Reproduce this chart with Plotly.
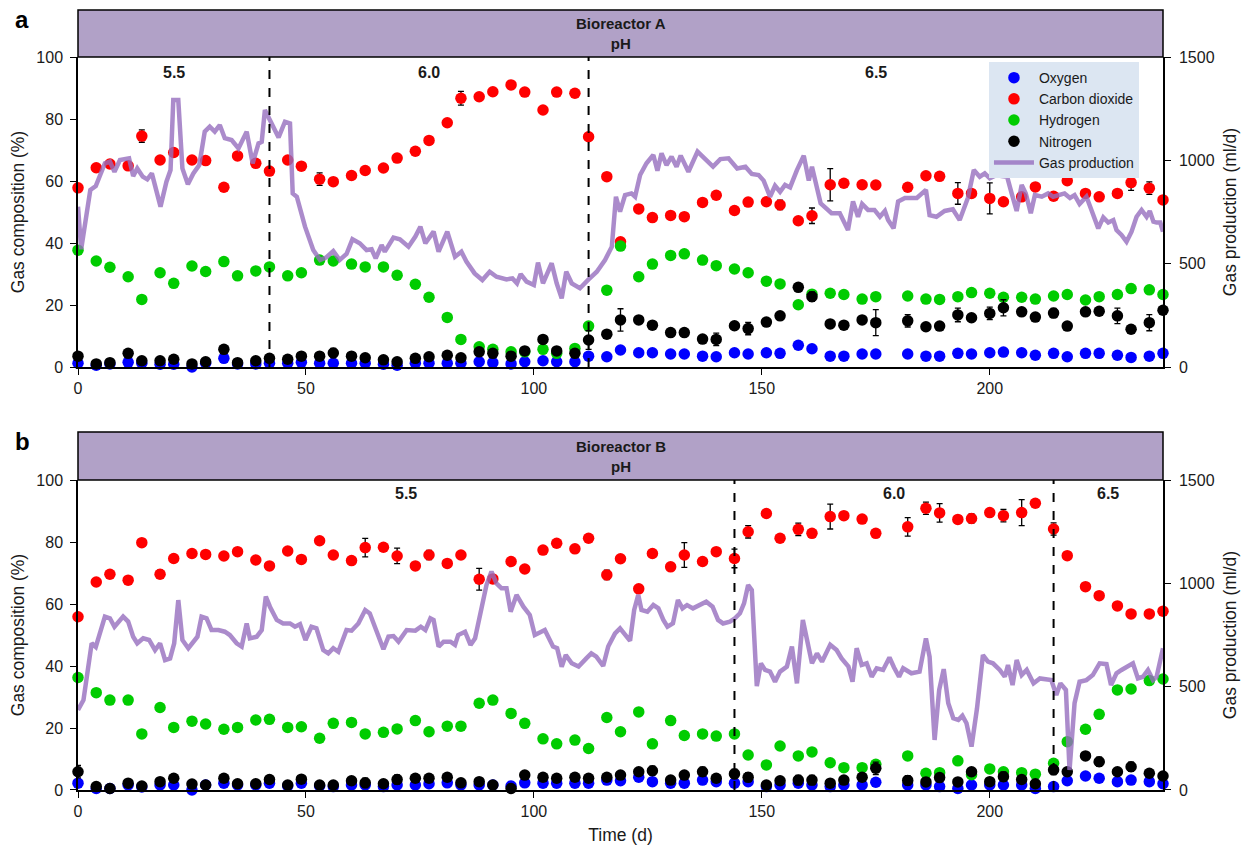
import plotly.graph_objects as go

# ---------------- sampling days (gas composition) ----------------
DAYS = [0, 4, 7, 11, 14, 18, 21, 25, 28, 32, 35, 39, 42, 46, 49, 53, 56, 60, 63, 67,
        70, 74, 77, 81, 84, 88, 91, 95, 98, 102, 105, 109, 112, 116, 119, 123, 126, 130, 133, 137,
        140, 144, 147, 151, 154, 158, 161, 165, 168, 172, 175, 182, 186, 189, 193, 196, 200, 203, 207, 210,
        214, 217, 221, 224, 228, 231, 235, 238]

# ---------------- Bioreactor A ----------------
O2_A = [1.2, 0.6, 1.0, 1.5, 1.2, 0.9, 0.9, 0.0, 1.2, 2.8, 1.0, 1.0, 1.2, 1.2, 1.5, 1.2, 1.2, 1.2, 1.2, 0.9,
        0.6, 1.2, 1.2, 1.2, 1.2, 1.7, 1.4, 1.0, 1.7, 2.0, 1.7, 1.7, 3.5, 3.3, 5.5, 4.6, 4.6, 4.2, 4.2, 3.5,
        3.3, 4.6, 4.2, 4.6, 4.4, 7.0, 5.9, 3.5, 3.5, 4.2, 4.2, 4.2, 3.5, 3.5, 4.4, 4.2, 4.6, 4.8, 4.6, 3.8,
        4.4, 3.3, 4.4, 4.4, 3.8, 3.1, 3.5, 4.4]
CO2_A = [57.8, 64.3, 65.5, 64.9, 74.5, 66.8, 69.2, 66.8, 66.6, 58.0, 68.1, 65.7, 63.2, 66.8, 64.8, 60.6, 59.8, 61.8, 63.4, 64.2,
         67.4, 69.6, 73.1, 78.8, 86.7, 87.2, 88.8, 91.0, 88.7, 82.9, 88.7, 88.3, 74.3, 61.4, 40.4, 51.0, 48.2, 48.9, 48.5, 53.1,
         55.4, 50.5, 53.2, 53.3, 52.3, 47.2, 48.8, 58.8, 59.3, 58.8, 58.7, 58.0, 61.7, 61.5, 56.0, 56.0, 54.4, 53.3, 54.9, 58.1,
         55.1, 60.1, 56.0, 54.9, 56.0, 59.5, 57.7, 53.9]
H2_A = [37.7, 34.2, 32.2, 29.1, 21.8, 30.4, 27.0, 32.6, 30.8, 34.0, 29.4, 31.0, 32.3, 29.4, 30.4, 34.5, 34.2, 33.2, 32.3, 32.3,
        29.6, 26.7, 22.5, 16.0, 8.9, 6.5, 5.7, 4.9, 4.9, 5.7, 4.4, 6.0, 13.2, 24.8, 39.0, 29.1, 33.2, 36.0, 36.5, 34.5,
        32.7, 31.6, 30.4, 27.7, 26.8, 20.1, 23.5, 23.8, 23.4, 21.9, 22.7, 22.9, 21.9, 21.8, 22.7, 24.0, 23.8, 22.5, 22.5, 21.9,
        22.9, 23.4, 21.6, 22.7, 23.4, 25.3, 24.9, 23.4]
N2_A = [3.5, 1.0, 1.4, 4.4, 2.0, 2.0, 2.5, 1.0, 1.7, 5.7, 1.4, 2.0, 2.8, 2.5, 3.5, 3.5, 4.5, 3.5, 3.0, 2.3,
        1.7, 2.8, 3.3, 3.8, 3.0, 4.9, 4.4, 3.5, 5.2, 8.9, 5.2, 4.4, 8.7, 10.6, 15.2, 15.2, 13.5, 11.1, 11.1, 9.0,
        8.9, 13.3, 12.4, 14.5, 16.5, 25.7, 22.7, 13.9, 13.5, 15.2, 14.3, 14.9, 13.0, 13.2, 16.8, 15.9, 17.3, 19.1, 17.8, 16.1,
        17.4, 13.2, 17.8, 18.0, 16.5, 12.2, 14.3, 18.3]

# standard deviations (day -> value) where bars are drawn
CO2_A_ERR = {14: 2.0, 53: 2.0, 70: 1.2, 74: 1.0, 77: 1.0, 84: 2.2, 88: 1.2, 144: 1.0, 154: 1.5,
             161: 2.5, 165: 5.2, 193: 3.5, 200: 5.0, 231: 2.5, 235: 2.0}
N2_A_ERR = {56: 1.5, 84: 1.0, 88: 1.0, 98: 1.0, 112: 3.0, 119: 3.6, 140: 2.0, 147: 2.0, 161: 1.5,
            175: 4.2, 182: 2.0, 193: 2.2, 200: 2.0, 203: 2.6, 214: 1.5, 228: 2.5, 235: 2.6}

GAS_A_DAY = [0, 0.7, 2.7, 3.9, 5.9, 7, 8, 9.2, 11.2, 12.1, 13, 14.2, 15.2, 16.2, 18.1, 19.4, 20.3, 20.9, 22, 22.9,
             24.1, 25.3, 26.6, 27.8, 28.9, 30, 31.1, 32.2, 33.7, 35.2, 37, 38.3, 39.6, 40.3, 41, 42.1, 44, 45.4, 46.5, 47.1,
             48, 49.8, 51.6, 53.1, 54.5, 56, 57.4, 58.9, 60.2, 61.8, 63.3, 64.4, 65.3, 66.6, 67.3, 69.2, 70.6, 72.5, 74, 75.1,
             76.2, 78, 79.1, 81,
             82.7, 84.1, 85.2, 87, 88.7, 90.3, 91.8, 94, 95.3, 96.3, 97.1, 98.4, 100, 100.9, 102, 103.9, 105, 106.1, 107.1, 108.3,
             110.1, 112, 113.8, 115.6, 117.1, 118, 118.9, 120, 121.4, 122.2, 123.3, 124.7, 126.2, 127.1, 128, 129.1, 130.2, 131.3, 132.2, 133.9,
             135.9, 137.6, 139.3, 140.9, 142.7, 144.6, 146.4, 147.8, 149.3, 150.4, 151.8, 152.9, 154, 155.1, 156.2, 157.7, 159.2, 160.3, 161, 162.9,
             164.3,
             165.3, 167.1, 168.9, 170, 171.1, 172, 173.3, 174.7, 175.9, 177, 177.7, 178.9, 179.9, 181.4, 184, 186, 186.8, 188.3, 190.1, 191.9,
             193.4, 195.2, 196.5, 197.8, 198.9, 200, 201.5, 202.6, 203.8, 204.8, 205.9, 207, 207.9, 209, 209.9, 211.4, 212.8, 213.9, 215.4, 216.4,
             217.6, 218.6, 219.7, 221.2, 222.3, 223.8, 224.9, 226, 227.1, 227.8, 228.9, 230, 231.1, 232.2, 233.3, 234.4, 235.1, 235.9, 236.6, 237.4,
             238]
GAS_A_ML = [776, 570, 857, 876, 986, 994, 945, 1002, 1010, 924, 961, 921, 908, 937, 776, 897, 953, 1292, 1292, 961,
            884, 937, 977, 1139, 1163, 1139, 1171, 1107, 1098, 1058, 1139, 986, 1082, 1090, 1244, 1195, 1111, 1187, 1179, 840,
            824, 679, 566, 518, 531, 561, 518, 547, 618, 599, 566, 570, 526, 590, 558, 626, 618, 582, 631, 679,
            599, 655, 558, 655,
            534, 558, 510, 453, 421, 461, 437, 424, 429, 405, 450, 413, 397, 505, 405, 502, 405, 332, 461, 405,
            381, 424, 461, 518, 582, 824, 752, 832, 840, 824, 929, 986, 1026, 950, 1034, 977, 1018, 969, 1023, 945,
            1042, 1006, 970, 1006, 1010, 961, 969, 934, 929, 902, 824, 877, 848, 881, 869, 953, 1023, 902, 969, 792,
            768,
            744, 744, 663, 801, 727, 789, 760, 760, 727, 755, 711, 671, 801, 818, 818, 857, 735, 727, 755, 763,
            711, 818, 953, 921, 937, 913, 929, 924, 921, 840, 755, 881, 840, 744, 832, 824, 840, 824, 832, 840,
            818, 832, 789, 824, 760, 671, 724, 699, 711, 663, 639, 606, 655, 727, 760, 727, 755, 703, 699, 699,
            655]

# ---------------- Bioreactor B ----------------
O2_B = [2.2, 0.5, 0.5, 1.6, 1.0, 1.6, 1.6, 0.0, 1.6, 2.2, 1.6, 1.6, 2.2, 1.3, 2.2, 1.3, 1.1, 1.6, 1.6, 1.1,
        1.6, 1.6, 2.0, 2.3, 1.6, 1.6, 1.6, 1.3, 2.3, 2.2, 2.2, 2.2, 2.2, 3.2, 3.0, 4.1, 2.7, 2.2, 2.2, 3.2,
        2.7, 2.2, 2.7, 1.1, 1.6, 2.2, 1.6, 1.1, 1.6, 1.6, 2.5, 1.6, 1.6, 1.1, 0.5, 1.6, 1.6, 1.6, 1.6, 0.5,
        1.1, 3.0, 4.5, 3.8, 2.7, 3.2, 2.7, 2.0]
CO2_B = [55.9, 67.1, 69.6, 67.7, 79.8, 69.6, 74.7, 76.3, 76.0, 75.5, 76.9, 74.2, 72.3, 77.1, 74.4, 80.4, 75.8, 74.0, 78.2, 78.3,
         75.5, 72.3, 75.8, 73.1, 75.8, 68.0, 68.1, 73.7, 71.3, 77.4, 79.6, 77.8, 81.2, 69.4, 74.6, 64.9, 76.3, 72.0, 75.8, 73.7,
         76.9, 74.7, 83.3, 89.2, 81.2, 84.1, 82.8, 88.2, 88.5, 87.4, 82.8, 84.9, 90.9, 89.4, 87.3, 87.6, 89.5, 88.5, 89.5, 92.5,
         84.2, 75.6, 65.6, 62.7, 59.4, 56.8, 56.8, 57.7]
H2_B = [36.3, 31.4, 29.0, 29.0, 18.1, 26.6, 20.2, 22.2, 21.3, 19.6, 20.2, 22.6, 22.8, 20.2, 20.4, 16.7, 21.5, 21.8, 18.1, 18.6,
        19.7, 22.4, 18.8, 20.6, 20.6, 28.0, 29.0, 24.7, 21.5, 16.5, 14.9, 16.1, 13.4, 23.4, 18.8, 25.2, 14.9, 22.4, 17.6, 18.1,
        17.4, 18.1, 11.3, 8.1, 14.2, 11.0, 12.3, 8.8, 7.2, 7.2, 8.3, 11.0, 5.4, 5.6, 9.4, 4.9, 6.8, 5.9, 5.6, 5.1,
        8.6, 15.6, 19.6, 24.4, 32.3, 32.6, 35.3, 35.8]
N2_B = [5.9, 1.1, 0.5, 2.2, 1.3, 2.7, 3.8, 1.9, 1.6, 3.8, 2.0, 2.0, 3.4, 1.6, 3.5, 1.6, 1.6, 3.0, 2.3, 2.0,
        3.4, 3.8, 3.8, 4.1, 2.3, 2.7, 1.6, 0.5, 4.8, 4.1, 3.8, 4.1, 3.8, 4.1, 4.8, 5.9, 6.2, 3.2, 4.8, 5.9,
        3.8, 5.2, 4.1, 1.6, 3.0, 3.2, 3.2, 2.2, 3.2, 4.1, 7.0, 3.1, 2.6, 4.0, 2.6, 5.9, 2.7, 4.3, 3.4, 2.0,
        6.5, 5.9, 11.0, 9.1, 5.9, 7.5, 5.4, 4.5]

CO2_B_ERR = {18: 1.3, 60: 1.0, 63: 3.0, 70: 2.5, 77: 1.5, 88: 3.5, 95: 1.0, 116: 1.5, 133: 4.0,
             144: 3.0, 147: 2.0, 158: 2.0, 165: 4.0, 182: 3.0, 186: 2.0, 189: 3.0, 196: 1.5,
             203: 2.0, 207: 4.2, 214: 2.0}
N2_B_ERR = {0: 2.0, 63: 1.5, 70: 1.5, 126: 1.5, 137: 1.5, 144: 1.5, 147: 1.5, 158: 1.5, 161: 1.5,
            175: 2.0, 182: 1.5, 203: 1.5, 214: 1.5, 224: 1.5, 231: 1.5}

GAS_B_DAY = [0, 1.2, 3, 3.9, 5.9, 7, 8, 9.9, 11, 12.1, 13, 14.3, 15.6, 16.9, 18, 19.1, 20.2, 21.1, 22, 22.9,
             24.2, 25.3, 26.2, 27.1, 28.2, 29.3, 30.8, 32.2, 33.3, 34.8, 35.9, 37, 37.7, 39.2, 40.3, 41.2, 42.1, 43.6, 45, 46.5,
             47.6, 48.7, 49.9, 51.2, 52.3, 53.8, 54.9, 56, 57.1, 58.9, 60, 61.5, 63, 64, 65.5, 67, 68.1, 69.2, 70.3, 72.1,
             74, 75.2, 76.2, 77.3, 78, 79.1, 80.2, 81.7, 82.7,
             83.4, 84.9, 86.1, 87.1, 88.2, 89.6, 90.7, 91.8, 92.9, 94, 94.9, 96.2, 97.7, 99.1, 100.2, 102.4, 104.2, 105.1, 106.1, 107,
             108.3, 109.8, 111.5, 112.6, 113.7, 115.2, 116.3, 117.8, 118.9, 120, 121.1, 122, 122.9, 123.6, 124.9, 126.2, 127.3, 128.4, 129.3, 130.5,
             131.6, 132.6, 133.6, 134.9, 136.3, 137.8, 139.2, 140.4, 141.5, 143, 144.1, 145.2, 146.1, 147, 147.8, 148.9, 149.8, 150.7, 151.8, 152.9,
             154, 155.5, 156.6, 157.7, 159, 159.9, 161, 162.1, 163.2,
             165, 166.4, 167.5, 169, 169.9, 170.8, 171.9, 173, 174.1, 175.2, 176.6, 178, 179, 180.1, 181, 182.8, 184.6, 186, 186.8, 187.9,
             188.9, 189.9, 190.9, 192, 193.1, 194, 194.9, 196, 197.2, 198.5, 199.6, 200.7, 202.2, 203.3, 204, 205, 205.9, 207, 208.1, 209.6,
             211, 212.5, 213.5, 214.6, 215.5, 216.7, 217.5, 218.6, 219.7, 221.2, 222.6, 224.1, 225.6, 226.6, 227.8, 228.9, 230.1, 231.4, 232.5, 233.6,
             234.7, 235.8, 236.6, 237.4, 238]
GAS_B_ML = [387, 435, 710, 692, 839, 831, 790, 839, 815, 742, 710, 734, 726, 677, 710, 629, 637, 710, 919, 726,
            686, 718, 742, 839, 831, 774, 774, 766, 750, 710, 694, 806, 734, 742, 774, 936, 887, 823, 806, 806,
            790, 802, 726, 790, 782, 677, 661, 686, 669, 774, 771, 806, 871, 855, 766, 681, 742, 745, 718, 774,
            771, 790, 774, 831, 823, 694, 718, 718, 702,
            750, 766, 702, 734, 855, 992, 1057, 1000, 976, 976, 863, 944, 887, 847, 750, 774, 694, 686, 597, 653,
            613, 597, 637, 661, 645, 600, 694, 758, 782, 750, 722, 871, 944, 871, 863, 895, 879, 823, 790, 806,
            919, 879, 895, 879, 895, 911, 887, 823, 806, 815, 831, 855, 903, 992, 968, 503, 613, 581, 573, 524,
            573, 597, 694, 516, 823, 726, 613, 661, 621,
            703, 677, 637, 597, 524, 686, 605, 613, 548, 589, 581, 641, 593, 548, 589, 565, 573, 734, 645, 242,
            484, 585, 420, 347, 339, 359, 323, 210, 395, 653, 621, 613, 581, 548, 605, 508, 629, 556, 581, 516,
            540, 532, 532, 460, 516, 484, 97, 420, 524, 532, 556, 613, 609, 508, 565, 581, 597, 613, 540, 548,
            581, 532, 548, 621, 686]

# pH set-point changes (days) and the pH of each phase
PH_A_SWITCH = [42, 112]
PH_A_LABELS = ["5.5", "6.0", "6.5"]
PH_B_SWITCH = [144, 214]
PH_B_LABELS = ["5.5", "6.0", "6.5"]

X_MAX = 238
SERIES_NAMES = ["Oxygen", "Carbon dioxide", "Hydrogen", "Nitrogen"]
SERIES_COLORS = ["#0000ff", "#ff0000", "#00cc00", "#000000"]
LINE_COLOR = "rgba(150,110,190,0.8)"
HEADER_FILL = "#b1a1c7"
FONT = "Liberation Sans, Arial, sans-serif"
TEXT_COLOR = "#1a1a1a"


def err_array(err_map):
    return [err_map.get(d, 0) for d in DAYS]


fig = go.Figure()


def add_panel(xa, ya, ya2, series, errors, gas_day, gas_ml, show_legend):
    for name, color, values, err in zip(SERIES_NAMES, SERIES_COLORS, series, errors):
        trace = dict(
            x=DAYS, y=values, mode="markers", name=name,
            marker=dict(color=color, size=11.5, line=dict(width=0)),
            xaxis=xa, yaxis=ya, showlegend=show_legend, cliponaxis=False,
        )
        if err:
            trace["error_y"] = dict(type="data", array=err_array(err), visible=True,
                                    color="black", thickness=1.3, width=3)
        fig.add_trace(go.Scatter(**trace))
    fig.add_trace(go.Scatter(
        x=gas_day, y=gas_ml, mode="lines", name="Gas production",
        line=dict(color=LINE_COLOR, width=4.5),
        xaxis=xa, yaxis=ya2, showlegend=show_legend,
    ))


add_panel("x", "y", "y2", [O2_A, CO2_A, H2_A, N2_A], [None, CO2_A_ERR, None, N2_A_ERR],
          GAS_A_DAY, GAS_A_ML, True)
add_panel("x2", "y3", "y4", [O2_B, CO2_B, H2_B, N2_B], [None, CO2_B_ERR, None, N2_B_ERR],
          GAS_B_DAY, GAS_B_ML, False)

# panel geometry in paper coordinates
TOP_DOM = [0.5423, 0.9397]
BOT_DOM = [0.0, 0.3974]
TOP_HEAD = [0.9397, 1.0]
BOT_HEAD = [0.3974, 0.459]

tick_font = dict(family=FONT, size=16, color=TEXT_COLOR)
title_font = dict(family=FONT, size=17.5, color=TEXT_COLOR)

axis_common = dict(showline=True, linecolor="black", linewidth=1.5, ticks="outside",
                   ticklen=6, tickwidth=1.3, tickcolor="black", showgrid=False,
                   zeroline=False, tickfont=tick_font, automargin=False)

x_common = dict(axis_common, range=[0, X_MAX], tickvals=[0, 50, 100, 150, 200])
y_left = dict(axis_common, range=[0, 100], dtick=20, ticklabelstandoff=4,
              title=dict(text="Gas composition (%)", font=title_font, standoff=7))
y_right = dict(axis_common, range=[0, 1500], dtick=500, side="right", ticklabelstandoff=5,
               title=dict(text="Gas production (ml/d)", font=title_font, standoff=10))

shapes = []
annotations = []


def panel_decor(xref, yref, head, switches, labels, title, letter, label_y):
    # header band
    shapes.append(dict(type="rect", xref="paper", yref="paper", x0=0, x1=1,
                       y0=head[0], y1=head[1], fillcolor=HEADER_FILL,
                       line=dict(color="black", width=1.5), layer="above"))
    annotations.append(dict(xref="paper", yref="paper", x=0.5, y=(head[0] + head[1]) / 2,
                            text="<b>" + title + "</b><br><b>pH</b>", showarrow=False,
                            font=dict(family=FONT, size=15, color=TEXT_COLOR),
                            xanchor="center", yanchor="middle"))
    annotations.append(dict(xref="paper", yref="paper", x=-0.0516, y=head[1] - 0.0128,
                            text="<b>" + letter + "</b>", showarrow=False,
                            font=dict(family=FONT, size=24, color="black"),
                            xanchor="center", yanchor="middle"))
    # pH change markers
    for d in switches:
        shapes.append(dict(type="line", xref=xref, yref=yref + " domain", x0=d, x1=d,
                           y0=0, y1=1, line=dict(color="black", width=2, dash="dash")))
    bounds = [0] + switches + [X_MAX]
    for i, lab in enumerate(labels):
        annotations.append(dict(xref=xref, yref="paper", x=(bounds[i] + bounds[i + 1]) / 2,
                                y=label_y, text="<b>" + lab + "</b>", showarrow=False,
                                font=dict(family=FONT, size=16, color=TEXT_COLOR),
                                xanchor="center", yanchor="middle"))


panel_decor("x", "y", TOP_HEAD, PH_A_SWITCH, PH_A_LABELS, "Bioreactor A", "a", 0.9205)
panel_decor("x2", "y3", BOT_HEAD, PH_B_SWITCH, PH_B_LABELS, "Bioreactor B", "b", 0.3795)

fig.update_layout(
    width=1245, height=847,
    margin=dict(l=78, r=82, t=10, b=57, autoexpand=False),
    paper_bgcolor="white", plot_bgcolor="white",
    font=dict(family=FONT, size=14, color=TEXT_COLOR),
    xaxis=dict(x_common, domain=[0, 1], anchor="y"),
    yaxis=dict(y_left, domain=TOP_DOM, anchor="x"),
    yaxis2=dict(y_right, overlaying="y", anchor="x"),
    xaxis2=dict(x_common, domain=[0, 1], anchor="y3",
                title=dict(text="Time (d)", font=title_font, standoff=10)),
    yaxis3=dict(y_left, domain=BOT_DOM, anchor="x2"),
    yaxis4=dict(y_right, overlaying="y3", anchor="x2"),
    shapes=shapes,
    annotations=annotations,
    legend=dict(x=0.8396, y=0.9333, xanchor="left", yanchor="top",
                bgcolor="#dce6f2", borderwidth=0, tracegroupgap=0,
                font=dict(family=FONT, size=14, color=TEXT_COLOR),
                itemwidth=40, entrywidth=125, entrywidthmode="pixels"),
)

fig.write_html("out.html")
